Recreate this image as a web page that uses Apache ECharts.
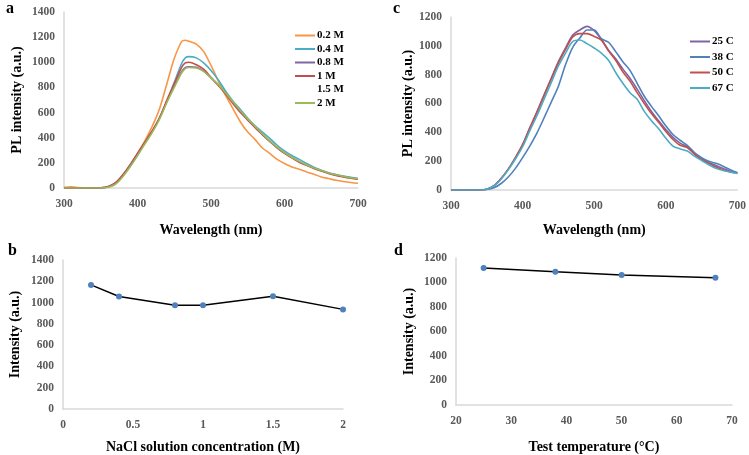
<!DOCTYPE html>
<html>
<head>
<meta charset="utf-8">
<script src="https://cdn.jsdelivr.net/npm/echarts@6/dist/echarts.min.js"></script>
<style>
  html, body { margin: 0; padding: 0; background: #fff; }
  #chart { width: 749px; height: 455px; }
</style>
</head>
<body>
<div id="chart"></div>
<script>
  // panel a: PL spectra vs NaCl concentration
  var waveA = [300,310,320,330,340,350,360,370,380,390,400,410,420,430,440,450,460,465,470,480,490,500,510,520,530,540,550,560,570,580,590,600,610,620,630,640,650,660,670,680,690,700];
  var m02 = [5,10,3,0,0,2,12,40,100,180,275,375,490,630,830,1030,1165,1175,1168,1145,1085,975,850,735,630,525,445,385,318,275,228,195,168,150,128,110,88,75,62,52,44,38];
  var m04 = [0,0,0,0,0,1,8,35,95,170,260,355,450,555,690,840,990,1035,1045,1035,995,935,860,770,690,625,555,495,445,395,340,295,258,228,195,165,142,122,108,96,85,76];
  var m08 = [0,0,0,0,0,1,10,40,100,182,270,360,450,555,690,810,925,958,965,960,930,875,820,755,680,610,545,485,425,370,322,280,242,210,182,158,138,118,104,92,82,74];
  var m1 = [0,0,0,0,0,1,10,40,105,185,275,365,455,560,700,830,960,995,1000,980,945,880,815,745,670,600,540,480,425,370,320,275,240,205,180,155,135,115,100,88,78,70];
  var m15 = [];
  var m2 = [0,0,0,0,0,0,6,30,90,170,258,350,440,548,680,800,915,950,958,955,928,878,822,755,685,615,550,490,430,375,325,282,245,212,185,160,140,120,105,93,82,74];

  // panel c: PL spectra vs temperature
  var waveC = [300,310,320,330,340,350,360,370,380,390,400,410,420,430,440,450,460,470,480,490,500,510,520,530,540,550,560,570,580,590,600,610,620,630,640,650,660,670,680,690,700];
  var t25 = [0,0,0,0,0,5,30,80,145,225,315,430,540,660,775,890,985,1075,1110,1135,1105,1045,970,910,840,775,700,620,545,480,420,365,325,300,250,215,190,170,150,130,120];
  var t38 = [0,0,0,0,0,3,15,45,90,150,225,305,395,500,610,720,870,990,1055,1110,1110,1050,1025,960,890,830,740,650,580,515,445,385,345,310,260,225,200,185,165,140,120];
  var t50 = [0,0,0,0,0,5,30,80,145,225,315,430,540,655,770,880,975,1062,1085,1085,1065,1040,965,900,820,755,675,600,530,470,405,350,310,295,250,210,185,160,140,125,118];
  var t67 = [0,0,0,0,0,5,28,75,140,215,300,410,515,630,745,860,950,1030,1040,1015,985,950,900,815,740,675,630,545,480,425,360,305,285,270,235,205,175,150,135,125,115];

  // panel b: peak intensity vs NaCl concentration
  var conc = [0.2,0.4,0.8,1,1.5,2];
  var concPeak = [1166,1057,975,975,1060,936];

  // panel d: peak intensity vs temperature
  var temp = [25,38,50,67];
  var tempPeak = [1119,1087,1061,1038];

  function pairs(xs, ys) {
    return ys.map(function (y, i) { return [xs[i], y]; });
  }

  var serif = '"Liberation Serif", "DejaVu Serif", serif';
  var tickStyle = { color: '#595959', fontFamily: serif, fontWeight: 'bold', fontSize: 11.5 };
  var nameStyle = { color: '#000', fontFamily: serif, fontWeight: 'bold', fontSize: 14 };

  function xAx(grid, min, max, interval, name, gap) {
    return {
      gridIndex: grid, type: 'value', min: min, max: max, interval: interval,
      name: name, nameLocation: 'middle', nameGap: gap, nameTextStyle: nameStyle,
      axisLine: { show: true, lineStyle: { color: '#d9d9d9', width: 1.5 } },
      axisTick: { show: false },
      splitLine: { show: false },
      axisLabel: Object.assign({ margin: 10, formatter: function (v) { return String(v); } }, tickStyle)
    };
  }
  function yAx(grid, max, name, gap) {
    return {
      gridIndex: grid, type: 'value', min: 0, max: max, interval: 200,
      name: name, nameLocation: 'middle', nameGap: gap, nameRotate: 90, nameTextStyle: nameStyle,
      axisLine: { show: true, lineStyle: { color: '#d9d9d9', width: 1.5 } },
      axisTick: { show: false },
      splitLine: { show: false },
      axisLabel: Object.assign({ margin: 9, formatter: function (v) { return String(v); } }, tickStyle)
    };
  }
  function spec(name, xs, ys, color, ax) {
    return {
      name: name, type: 'line', xAxisIndex: ax, yAxisIndex: ax,
      data: pairs(xs, ys), symbol: 'none', smooth: 0.3,
      lineStyle: { color: color, width: 1.6 }, itemStyle: { color: color }
    };
  }
  function peak(xs, ys, ax) {
    return {
      type: 'line', xAxisIndex: ax, yAxisIndex: ax, data: pairs(xs, ys),
      symbol: 'circle', symbolSize: 6, showSymbol: true,
      lineStyle: { color: '#000', width: 1.5 },
      itemStyle: { color: '#4f81bd' }
    };
  }

  var myChart = echarts.init(document.getElementById('chart'));
  var letter = { fontFamily: serif, fontWeight: 'bold', fontSize: 16, color: '#000' };
  var legendText = { color: '#000', fontFamily: serif, fontWeight: 'bold', fontSize: 11, lineHeight: 9, padding: [0, 0, 0, -3] };
  var option = {
    animation: false,
    backgroundColor: '#fff',
    title: [
      { text: 'a', left: 1, top: -4, textStyle: letter },
      { text: 'b', left: 3, top: 238, textStyle: letter },
      { text: 'c', left: 388, top: -4, textStyle: letter },
      { text: 'd', left: 389, top: 238, textStyle: letter }
    ],
    grid: [
      { left: 64, right: 391, top: 12, bottom: 267 },
      { left: 63, right: 406, top: 260, bottom: 41 },
      { left: 451, right: 9, top: 17, bottom: 265 },
      { left: 456, right: 17, top: 258, bottom: 43 }
    ],
    legend: [
      {
        data: ['0.2 M', '0.4 M', '0.8 M', '1 M', '1.5 M', '2 M'],
        orient: 'vertical', left: 290, top: 25, icon: 'rect', itemWidth: 20, itemHeight: 2, itemGap: 2.5,
        textStyle: legendText
      },
      {
        data: ['25 C', '38 C', '50 C', '67 C'],
        orient: 'vertical', left: 685, top: 31, icon: 'rect', itemWidth: 20, itemHeight: 2, itemGap: 4.5,
        textStyle: legendText
      }
    ],
    xAxis: [
      xAx(0, 300, 700, 100, 'Wavelength (nm)', 35),
      xAx(1, 0, 2, 0.5, 'NaCl solution concentration (M)', 31),
      xAx(2, 300, 700, 100, 'Wavelength (nm)', 33),
      xAx(3, 20, 70, 10, 'Test temperature (°C)', 35)
    ],
    yAxis: [
      yAx(0, 1400, 'PL intensity (a.u.)', 40),
      yAx(1, 1400, 'Intensity (a.u.)', 41),
      yAx(2, 1200, 'PL intensity (a.u.)', 36),
      yAx(3, 1200, 'Intensity (a.u.)', 40)
    ],
    series: [
      spec('0.2 M', waveA, m02, '#f79646', 0),
      spec('0.4 M', waveA, m04, '#4bacc6', 0),
      spec('0.8 M', waveA, m08, '#8064a2', 0),
      spec('1 M', waveA, m1, '#c0504d', 0),
      spec('1.5 M', waveA, m15, 'rgba(255,255,255,0)', 0),
      spec('2 M', waveA, m2, '#9bbb59', 0),
      peak(conc, concPeak, 1),
      spec('25 C', waveC, t25, '#8064a2', 2),
      spec('38 C', waveC, t38, '#4f81bd', 2),
      spec('50 C', waveC, t50, '#c0504d', 2),
      spec('67 C', waveC, t67, '#4bacc6', 2),
      peak(temp, tempPeak, 3)
    ]
  };
  myChart.setOption(option, true);
</script>
</body>
</html>
